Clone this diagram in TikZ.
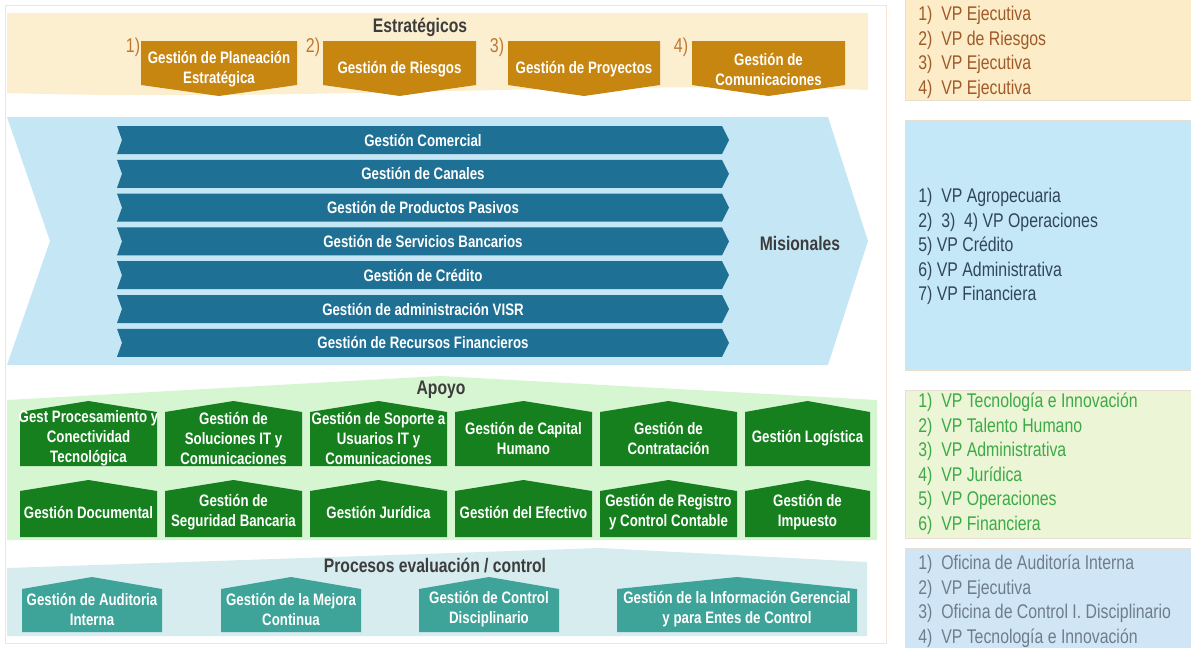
\documentclass[tikz,border=0pt]{standalone}
\usepackage{fontspec}
\setmainfont{Liberation Sans}[FakeStretch=0.8]

\definecolor{framecol}{RGB}{248,226,210}
\definecolor{estband}{RGB}{252,239,208}
\definecolor{estbox}{RGB}{199,134,16}
\definecolor{estnum}{RGB}{190,120,50}
\definecolor{misband}{RGB}{197,230,245}
\definecolor{misbar}{RGB}{30,112,148}
\definecolor{apoband}{RGB}{214,246,210}
\definecolor{apobox}{RGB}{22,128,30}
\definecolor{ctlband}{RGB}{214,236,238}
\definecolor{ctlbox}{RGB}{62,163,152}
\definecolor{titlecol}{RGB}{60,60,60}
\definecolor{vpborder}{RGB}{232,222,210}
\definecolor{vpestfill}{RGB}{252,236,200}
\definecolor{vpesttext}{RGB}{160,90,40}
\definecolor{vpmisfill}{RGB}{196,232,248}
\definecolor{vpmistext}{RGB}{50,70,90}
\definecolor{vpapofill}{RGB}{236,245,214}
\definecolor{vpapotext}{RGB}{60,170,70}
\definecolor{vpctlfill}{RGB}{208,230,246}
\definecolor{vpctltext}{RGB}{110,125,140}

\begin{document}
\begin{tikzpicture}[x=0.5pt,y=-0.5pt,
    boxtext/.style={text=white,font=\bfseries\fontsize{8.3}{10}\selectfont,align=center,inner sep=0pt},
    titletext/.style={text=titlecol,font=\bfseries\fontsize{9.8}{11}\selectfont,inner sep=0pt},
    numtext/.style={text=estnum,font=\fontsize{10}{12}\selectfont,inner sep=0pt},
    vptext/.style={font=\fontsize{9.9}{12.25}\selectfont,align=left,inner sep=0pt,anchor=north west}]
    \useasboundingbox (0,0) rectangle (1191,648);
    \draw[framecol] (5,5) rectangle (886,643);
    % Estrategicos
    \fill[estband] (7,13)--(868,13)--(868,90) .. controls (600,80) and (300,102) .. (7,93)--cycle;
    \node[titletext] (estrategicos) at (420,27) {Estratégicos};
    \fill[estbox] (141,41)--(297,41)--(297,85)--(219,96)--(141,85)--cycle;
    \fill[estbox] (323,41)--(476,41)--(476,85)--(399.5,96)--(323,85)--cycle;
    \fill[estbox] (508,41)--(660,41)--(660,85)--(584,96)--(508,85)--cycle;
    \fill[estbox] (692,41)--(845,41)--(845,85)--(768.5,96)--(692,85)--cycle;
    \node[numtext] (num1) at (133,47) {1)};
    \node[numtext] (num2) at (313,47) {2)};
    \node[numtext] (num3) at (497,47) {3)};
    \node[numtext] (num4) at (681,47) {4)};
    \node[boxtext] (est1) at (219,69) {Gestión de Planeación\\Estratégica};
    \node[boxtext] (est2) at (399.5,69) {Gestión de Riesgos};
    \node[boxtext] (est3) at (584,69) {Gestión de Proyectos};
    \node[boxtext] (est4) at (768.5,69) {Gestión de\\Comunicaciones};
    % Misionales
    \fill[misband] (7,117)--(828,117)--(868,241)--(828,365)--(7,365)--(50,241)--cycle;
    \fill[misbar] (117,126)--(722,126)--(729,140)--(722,154)--(117,154)--(122,140)--cycle;
    \fill[misbar] (117,159.8)--(722,159.8)--(729,173.8)--(722,187.8)--(117,187.8)--(122,173.8)--cycle;
    \fill[misbar] (117,193.6)--(722,193.6)--(729,207.6)--(722,221.6)--(117,221.6)--(122,207.6)--cycle;
    \fill[misbar] (117,227.4)--(722,227.4)--(729,241.4)--(722,255.4)--(117,255.4)--(122,241.4)--cycle;
    \fill[misbar] (117,261.2)--(722,261.2)--(729,275.2)--(722,289.2)--(117,289.2)--(122,275.2)--cycle;
    \fill[misbar] (117,295)--(722,295)--(729,309)--(722,323)--(117,323)--(122,309)--cycle;
    \fill[misbar] (117,328.8)--(722,328.8)--(729,342.8)--(722,356.8)--(117,356.8)--(122,342.8)--cycle;
    \node[boxtext] (mis1) at (423,140) {Gestión Comercial};
    \node[boxtext] (mis2) at (423,173.8) {Gestión de Canales};
    \node[boxtext] (mis3) at (423,207.6) {Gestión de Productos Pasivos};
    \node[boxtext] (mis4) at (423,241.4) {Gestión de Servicios Bancarios};
    \node[boxtext] (mis5) at (423,275.2) {Gestión de Crédito};
    \node[boxtext] (mis6) at (423,309) {Gestión de administración VISR};
    \node[boxtext] (mis7) at (423,342.8) {Gestión de Recursos Financieros};
    \node[titletext] (misionales) at (800,243) {Misionales};
    % Apoyo
    \fill[apoband] (7,400)--(440,376)--(877,400)--(877,540)--(7,540)--cycle;
    \node[titletext] (apoyo) at (441,390) {Apoyo};
    \fill[apobox] (20,412)--(88.5,401)--(157,412)--(157,466)--(20,466)--cycle;
    \fill[apobox] (165,412)--(233.5,401)--(302,412)--(302,466)--(165,466)--cycle;
    \fill[apobox] (310,412)--(378.5,401)--(447,412)--(447,466)--(310,466)--cycle;
    \fill[apobox] (455,412)--(523.5,401)--(592,412)--(592,466)--(455,466)--cycle;
    \fill[apobox] (600,412)--(668.5,401)--(737,412)--(737,466)--(600,466)--cycle;
    \fill[apobox] (745,412)--(807.5,401)--(870,412)--(870,466)--(745,466)--cycle;
    \fill[apobox] (20,491)--(88.5,480)--(157,491)--(157,537)--(20,537)--cycle;
    \fill[apobox] (165,491)--(233.5,480)--(302,491)--(302,537)--(165,537)--cycle;
    \fill[apobox] (310,491)--(378.5,480)--(447,491)--(447,537)--(310,537)--cycle;
    \fill[apobox] (455,491)--(523.5,480)--(592,491)--(592,537)--(455,537)--cycle;
    \fill[apobox] (600,491)--(668.5,480)--(737,491)--(737,537)--(600,537)--cycle;
    \fill[apobox] (745,491)--(807.5,480)--(870,491)--(870,537)--(745,537)--cycle;
    \node[boxtext] (apo1) at (88.5,438) {Gest Procesamiento y\\Conectividad\\Tecnológica};
    \node[boxtext] (apo2) at (233.5,438) {Gestión de\\Soluciones IT y\\Comunicaciones};
    \node[boxtext] (apo3) at (378.5,438) {Gestión de Soporte a\\Usuarios IT y\\Comunicaciones};
    \node[boxtext] (apo4) at (523.5,438) {Gestión de Capital\\Humano};
    \node[boxtext] (apo5) at (668.5,438) {Gestión de\\Contratación};
    \node[boxtext] (apo6) at (807.5,438) {Gestión Logística};
    \node[boxtext] (apo7) at (88.5,512) {Gestión Documental};
    \node[boxtext] (apo8) at (233.5,512) {Gestión de\\Seguridad Bancaria};
    \node[boxtext] (apo9) at (378.5,512) {Gestión Jurídica};
    \node[boxtext] (apo10) at (523.5,512) {Gestión del Efectivo};
    \node[boxtext] (apo11) at (668.5,512) {Gestión de Registro\\y Control Contable};
    \node[boxtext] (apo12) at (807.5,512) {Gestión de\\Impuesto};
    % Evaluacion / control
    \fill[ctlband] (7,568)--(600,548)--(867,562)--(867,636)--(7,636)--cycle;
    \node[titletext] (control) at (435,566) {Procesos evaluación / control};
    \fill[ctlbox] (22,589)--(92,577)--(162,589)--(162,632)--(22,632)--cycle;
    \fill[ctlbox] (221,589)--(291,577)--(361,589)--(361,632)--(221,632)--cycle;
    \fill[ctlbox] (419,589)--(489,577)--(559,589)--(559,632)--(419,632)--cycle;
    \fill[ctlbox] (617,589)--(737,577)--(857,589)--(857,632)--(617,632)--cycle;
    \node[boxtext] (ctl1) at (92,609) {Gestión de Auditoria\\Interna};
    \node[boxtext] (ctl2) at (291,609) {Gestión de la Mejora\\Continua};
    \node[boxtext] (ctl3) at (489,609) {Gestión de Control\\Disciplinario};
    \node[boxtext] (ctl4) at (737,609) {Gestión de la Información Gerencial\\y para Entes de Control};
    % Responsables
    \filldraw[fill=vpestfill,draw=vpborder] (905,-5) rectangle (1196,100);
    \filldraw[fill=vpmisfill,draw=vpborder] (905,120) rectangle (1196,370);
    \filldraw[fill=vpapofill,draw=vpborder] (905,390) rectangle (1196,538);
    \filldraw[fill=vpctlfill,draw=vpborder] (905,548) rectangle (1196,652);
    \node[vptext,text=vpesttext] (vpest) at (918,6) {1)~ VP Ejecutiva\\2)~ VP de Riesgos\\3)~ VP Ejecutiva\\4)~ VP Ejecutiva};
    \node[vptext,text=vpmistext] (vpmis) at (918,188) {1)~ VP Agropecuaria\\2)~ 3)~ 4) VP Operaciones\\5) VP Crédito\\6) VP Administrativa\\7) VP Financiera};
    \node[vptext,text=vpapotext] (vpapo) at (918,393) {1)~ VP Tecnología e Innovación\\2)~ VP Talento Humano\\3)~ VP Administrativa\\4)~ VP Jurídica\\5)~ VP Operaciones\\6)~ VP Financiera};
    \node[vptext,text=vpctltext] (vpctl) at (918,555) {1)~ Oficina de Auditoría Interna\\2)~ VP Ejecutiva\\3)~ Oficina de Control I. Disciplinario\\4)~ VP Tecnología e Innovación};
\end{tikzpicture}
\end{document}
